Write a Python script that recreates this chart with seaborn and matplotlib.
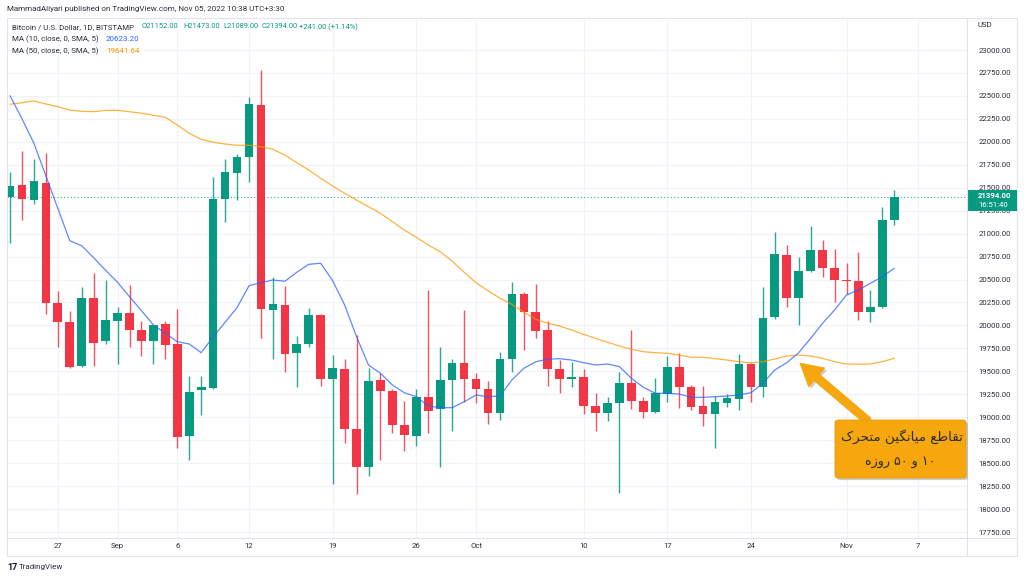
import numpy as np
import pandas as pd
import matplotlib
matplotlib.use("Agg")
import matplotlib.pyplot as plt
import matplotlib.patheffects as pe
from matplotlib.patches import Rectangle, FancyBboxPatch
from matplotlib.lines import Line2D
import seaborn as sns

# ---------------- data ----------------
dates = pd.date_range("2022-08-23", "2022-11-05", freq="D")

open_ = [21399, 21526, 21366, 21548, 20241, 20041, 19561, 20302, 19827, 20047,
         20132, 19950, 19834, 20012, 19798, 18799, 19297, 19315, 21374, 21657,
         21835, 22401, 20168, 20223, 19697, 19798, 20114, 19413, 19529, 18875,
         18455, 19406, 19286, 18915, 18799, 19224, 19087, 19406, 19588, 19417,
         19308, 19049, 19631, 20342, 20150, 19950, 19526, 19413, 19435, 19123,
         19049, 19152, 19370, 19180, 19060, 19253, 19544, 19326, 19126, 19035,
         19158, 19199, 19577, 19326, 20089, 20767, 20295, 20596, 20818, 20629,
         20495, 20481, 20150, 20204, 21152]
high = [21671, 21897, 21813, 21875, 20375, 20157, 20415, 20574, 20495, 20200,
        20440, 20052, 20010, 20052, 20179, 19453, 19453, 21617, 21813, 21870,
        22485, 22782, 20528, 20429, 19885, 20187, 20120, 19678, 19631, 19896,
        19533, 19485, 19304, 19180, 19304, 20386, 19769, 19635, 20168, 19478,
        19395, 19714, 20470, 20361, 20448, 20052, 19623, 19598, 19522, 19261,
        19224, 19496, 19950, 19224, 19424, 19667, 19696, 19351, 19340, 19235,
        19250, 19689, 19594, 20415, 21014, 20873, 20745, 21083, 20931, 20833,
        20683, 20803, 20386, 21287, 21473]
low = [20901, 21148, 21323, 20121, 19768, 19533, 19550, 19558, 19800, 19577,
       19762, 19667, 19580, 19631, 18668, 18534, 19024, 19304, 21127, 21366,
       21566, 19866, 19631, 19496, 19333, 19762, 19344, 18273, 18716, 18161,
       18363, 18534, 18825, 18636, 18690, 18825, 18462, 18850, 19169, 19151,
       18926, 18970, 19496, 19732, 19866, 19340, 19261, 19326, 19033, 18853,
       18963, 18178, 19087, 18995, 19050, 19163, 19104, 19079, 18908, 18662,
       19115, 19079, 19169, 19224, 20067, 20204, 20005, 20579, 20531, 20252,
       20342, 20059, 20041, 20187, 21089]
close = [21519, 21374, 21570, 20248, 20041, 19551, 20302, 19812, 20059, 20132,
         19950, 19834, 20005, 19787, 18785, 19272, 19326, 21377, 21671, 21835,
         22409, 20179, 20230, 19686, 19798, 20114, 19413, 19536, 18872, 18462,
         19398, 19289, 18915, 18807, 19217, 19071, 19406, 19592, 19417, 19308,
         19043, 19631, 20342, 20150, 19943, 19526, 19413, 19442, 19123, 19049,
         19152, 19370, 19177, 19060, 19261, 19544, 19326, 19115, 19035, 19163,
         19206, 19577, 19326, 20084, 20778, 20295, 20596, 20818, 20622, 20495,
         20481, 20150, 20204, 21153, 21394]

ma10 = [22502, 22252, 21984, 21631, 21276, 20923, 20868, 20738, 20600, 20470,
        20313, 20161, 20005, 19914, 19823, 19798, 19703, 19877, 20034, 20194,
        20433, 20466, 20495, 20481, 20579, 20666, 20677, 20487, 20223, 19877,
        19569, 19479, 19351, 19267, 19224, 19122, 19104, 19104, 19169, 19242,
        19224, 19231, 19406, 19533, 19605, 19631, 19638, 19623, 19594, 19569,
        19580, 19551, 19424, 19326, 19261, 19261, 19253, 19217, 19217, 19224,
        19231, 19242, 19267, 19370, 19515, 19594, 19703, 19860, 20023, 20168,
        20331, 20386, 20459, 20531, 20623]
ma50 = [22409, 22426, 22445, 22412, 22382, 22346, 22332, 22328, 22343, 22343,
        22328, 22311, 22289, 22267, 22183, 22093, 22027, 21995, 21976, 21962,
        21962, 21947, 21918, 21856, 21773, 21693, 21603, 21519, 21439, 21366,
        21293, 21221, 21130, 21039, 20960, 20876, 20803, 20700, 20580, 20465,
        20379, 20296, 20230, 20143, 20067, 20023, 19994, 19950, 19903, 19860,
        19816, 19776, 19740, 19714, 19703, 19696, 19678, 19653, 19653, 19638,
        19623, 19605, 19594, 19605, 19634, 19667, 19678, 19667, 19642, 19605,
        19580, 19577, 19580, 19605, 19642]

date_tick_labels = ["27", "Sep", "6", "12", "19", "26", "Oct", "10", "17", "24", "Nov", "7"]
date_tick_dates = ["2022-08-27", "2022-09-01", "2022-09-06", "2022-09-12", "2022-09-19",
                   "2022-09-26", "2022-10-01", "2022-10-10", "2022-10-17", "2022-10-24",
                   "2022-11-01", "2022-11-07"]
price_ticks = list(range(17750, 23001, 250))
last_price = 21394.00
last_time = "16:51:40"
ma10_last = "20623.20"
ma50_last = "19641.64"

# ---------------- style ----------------
GREEN = "#089981"
RED = "#f23645"
BLUE = "#2962ff"
ORANGE_MA = "#ff9800"
TXT = "#2a2e39"
GRID = "#f0f3fa"
FRAME = "#e0e3eb"
NOTE = "#f6a70d"

sns.set_theme(style="white")
plt.rcParams['font.family'] = ['Roboto', 'DejaVu Sans']

W, H = 1024, 579
fig = plt.figure(figsize=(W / 100, H / 100), dpi=100)
fig.patch.set_facecolor("white")


def fx(px):
    return px / W


def fy(py):
    return 1 - py / H


ax = fig.add_axes([fx(7), fy(538), fx(967) - fx(7), fy(20) - fy(538)])
ax.set_facecolor("white")

df = pd.DataFrame({"date": dates, "open": open_, "high": high, "low": low,
                   "close": close, "ma10": ma10, "ma50": ma50})
df["i"] = np.arange(len(df))
o = df["open"].to_numpy(float)
c = df["close"].to_numpy(float)
up = c >= o
cols = np.where(up, GREEN, RED)

# grid
for p in price_ticks:
    ax.axhline(p, color=GRID, lw=0.9, zorder=0)
tick_idx = [(pd.Timestamp(d) - dates[0]).days for d in date_tick_dates]
for t in tick_idx:
    ax.axvline(t, color=GRID, lw=0.9, zorder=0)

# candles
ax.vlines(df["i"], df["low"], df["high"], colors=cols, lw=1.0, zorder=2, alpha=0.85)
ax.bar(df["i"], np.maximum(np.abs(c - o), 14), bottom=np.minimum(o, c), width=0.72,
       color=cols, linewidth=0, zorder=3)

# moving averages (seaborn)
sns.lineplot(data=df, x="i", y="ma50", ax=ax, color=ORANGE_MA, lw=0.9, alpha=0.75, zorder=4)
sns.lineplot(data=df, x="i", y="ma10", ax=ax, color=BLUE, lw=0.9, alpha=0.75, zorder=4)

# last price dotted line
ax.axhline(last_price, color=GREEN, lw=0.8, ls=(0, (1, 2)), alpha=0.8, zorder=1)

# axes limits / ticks
ax.set_xlim((7 - 10) / 11.95, (967 - 10) / 11.95)
ax.set_ylim(23000 - (538 - 50) * 10.892, 23000 + 30 * 10.892)
ax.set_xlabel("")
ax.set_ylabel("")
ax.yaxis.tick_right()
ax.set_yticks(price_ticks)
ax.set_yticklabels([f"{p:.2f}" for p in price_ticks])
ax.set_xticks(tick_idx)
ax.set_xticklabels(date_tick_labels)
ax.tick_params(axis="y", length=0, pad=8, labelsize=5.6, labelcolor=TXT)
ax.tick_params(axis="x", length=0, pad=3.5, labelsize=5.6, labelcolor=TXT)
for s in ax.spines.values():
    s.set_visible(False)

# frames
fig.add_artist(Rectangle((fx(7), fy(556)), fx(1017) - fx(7), fy(18) - fy(556),
                         transform=fig.transFigure, fill=False, ec=FRAME, lw=0.8))
fig.add_artist(Line2D([fx(967), fx(967)], [fy(18), fy(556)], transform=fig.transFigure,
                      color=FRAME, lw=0.8))
fig.add_artist(Line2D([fx(7), fx(1017)], [fy(538), fy(538)], transform=fig.transFigure,
                      color=FRAME, lw=0.8))

# header texts
fig.text(fx(7), fy(9), "MammadAliyari published on TradingView.com, Nov 05, 2022 10:38 UTC+3:30",
         fontsize=5.8, color=TXT, va="center", ha="left")
fig.text(fx(12), fy(27), "Bitcoin / U.S. Dollar, 1D, BITSTAMP", fontsize=5.7, color=TXT,
         va="center", ha="left")
chg = close[-1] - close[-2]
ohlc_txt = [f"O{open_[-1]:.2f}", f"H{high[-1]:.2f}", f"L{low[-1]:.2f}", f"C{close[-1]:.2f}",
            f"+{chg:.2f} (+{chg / close[-2] * 100:.2f}%)"]
for xp, t in zip([142, 183, 223, 261, 299], ohlc_txt):
    fig.text(fx(xp), fy(27), t, fontsize=5.4, color=GREEN, va="center", ha="left")
fig.text(fx(12), fy(39), "MA (10, close, 0, SMA, 5)", fontsize=5.7, color=TXT, va="center")
fig.text(fx(106), fy(39), ma10_last, fontsize=5.7, color=BLUE, va="center")
fig.text(fx(12), fy(51), "MA (50, close, 0, SMA, 5)", fontsize=5.7, color=TXT, va="center")
fig.text(fx(106), fy(51), ma50_last, fontsize=5.7, color=ORANGE_MA, va="center")

# price axis header and last price label
fig.text(fx(978), fy(25), "USD", fontsize=5.6, color=TXT, va="center")
fig.add_artist(Rectangle((fx(968), fy(211)), fx(1017) - fx(968), fy(190) - fy(211),
                         transform=fig.transFigure, fc=GREEN, ec="none"))
fig.text(fx(978), fy(195.5), f"{last_price:.2f}", fontsize=5.6, color="white",
         va="center", fontweight="bold")
fig.text(fx(978), fy(205.5), last_time, fontsize=5.6, color="white", va="center")

# footer logo
fig.text(fx(7), fy(567), "17", fontsize=6.5, color="#131722", va="center", fontweight="bold")
fig.text(fx(19), fy(567), "TradingView", fontsize=5.8, color=TXT, va="center")

# annotation: arrow + box with Persian text
shadow = [pe.withSimplePatchShadow(offset=(1.5, -1.5), shadow_rgbFace="#777777", alpha=0.35)]
cross_i = 66.1
cross_p = 19590
ax.annotate("", xy=(cross_i, cross_p), xycoords="data",
            xytext=(fx(868), fy(421)), textcoords="figure fraction",
            arrowprops=dict(arrowstyle="simple,head_length=1.6,head_width=1.8,tail_width=0.6",
                            fc=NOTE, ec=NOTE, lw=0.5, shrinkA=0, shrinkB=0,
                            mutation_scale=10, path_effects=shadow),
            zorder=6, annotation_clip=False)
box = FancyBboxPatch((fx(835), fy(478)), fx(966) - fx(835), fy(420) - fy(478),
                     boxstyle="round,pad=0,rounding_size=0.004", transform=fig.transFigure,
                     fc=NOTE, ec="#e79b05", lw=0.6, path_effects=shadow, zorder=7)
fig.add_artist(box)

# Persian text in presentation forms (logical order), drawn reversed for LTR rendering
line1_logical = ("\uFE97\uFED8\uFE8E\uFEC3\uFECA" + " " +
                 "\uFEE3\uFBFF\uFE8E\uFEE7\uFB95\uFBFF\uFEE6" + " " +
                 "\uFEE3\uFE98\uFEA4\uFEAE\uFB8E")
line1 = line1_logical[::-1]
line2 = "\u0647\u0632\u0648\u0631 \u06F5\u06F0 \u0648 \u06F1\u06F0"
fig.text(fx(902), fy(437), line1, fontsize=9.7, color="#2b2b2b", ha="center", va="center",
         family=["DejaVu Sans"], zorder=8)
fig.text(fx(900), fy(461), line2, fontsize=9.2, color="#2b2b2b", ha="center", va="center",
         family=["DejaVu Sans"], zorder=8)

fig.savefig("out.png", dpi=100, facecolor="white")
